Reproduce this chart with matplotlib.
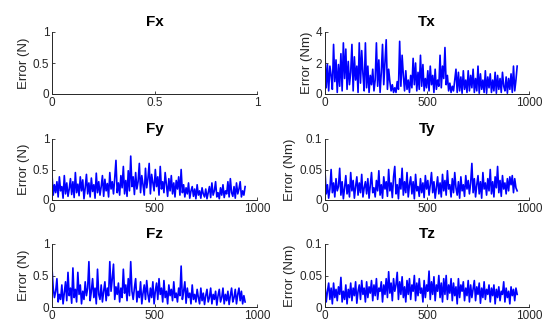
import numpy as np
import matplotlib
matplotlib.use("Agg")
import matplotlib.pyplot as plt
from matplotlib.ticker import FuncFormatter

plt.rcParams['font.family'] = ['Liberation Sans', 'DejaVu Sans']

step = 6  # sample spacing of the values below

tx = [2.5,0.4,1.9,0.2,1.8,1.2,0.3,3.2,0.8,2.2,0.1,1.9,0.5,2.6,0.2,3.3,1.0,
      2.9,0.3,2.1,0.6,1.4,3.2,0.2,2.4,0.9,1.8,0.1,3.3,0.7,2.8,1.3,0.2,3.3,
      0.4,1.8,0.1,1.2,0.6,1.6,0.2,0.9,
      3.3,0.5,2.2,0.1,1.4,3.2,0.6,2.0,3.5,0.3,1.6,0.8,
      0.2,0.6,0.1,0.4,0.1,0.8,0.3,
      3.4,0.5,2.5,1.2,0.2,
      1.5,0.3,0.9,0.1,1.2,0.4,2.3,
      0.6,2.0,0.2,1.4,0.3,
      2.5,0.5,1.9,0.2,1.0,0.4,
      1.5,0.2,1.8,0.6,1.2,0.1,1.6,0.3,0.9,0.5,
      2.5,0.4,1.8,1.0,3.0,0.6,
      1.2,0.2,0.7,0.1,0.5,0.2,0.9,
      1.6,0.1,1.4,0.2,1.1,0.05,1.5,0.3,0.9,0.1,
      1.5,0.2,1.2,0.4,1.6,0.1,1.0,0.2,1.8,0.05,
      1.3,0.3,0.9,0.1,1.5,0.05,1.1,0.4,1.3,0.1,
      0.9,0.2,1.4,0.05,1.2,0.3,1.0,0.1,1.4,0.5,
      0.2,1.1,0.05,1.0,0.3,1.3,0.1,1.8,0.2,0.9,1.8]

fy = [0.42,0.08,0.25,0.12,0.30,0.05,0.38,0.15,0.22,0.03,0.40,0.10,0.28,0.06,0.18,0.35,0.09,
      0.30,0.04,0.45,0.12,0.26,0.07,0.38,0.15,0.33,0.02,0.20,0.42,0.10,0.28,0.05,0.36,0.14,
      0.25,0.03,0.44,0.12,0.30,0.08,0.22,0.40,0.06,0.34,0.15,0.27,0.05,0.45,0.18,0.30,0.10,
      0.36,0.65,0.12,0.28,0.08,0.40,0.20,0.55,0.10,0.32,0.06,0.48,0.15,0.72,0.22,0.38,0.09,
      0.45,0.18,0.30,0.60,0.12,0.40,0.25,0.08,0.52,0.20,0.35,0.60,0.10,0.42,0.28,0.15,0.50,
      0.22,0.38,0.08,0.55,0.18,0.30,0.12,0.45,0.25,0.06,0.35,0.15,0.40,0.10,0.28,0.05,0.32,
      0.18,0.38,0.08,0.50,0.12,0.25,0.05,0.20,0.10,0.28,0.03,0.15,0.22,0.06,0.18,0.02,0.25,
      0.08,0.15,0.03,0.20,0.10,0.05,0.18,0.02,0.12,0.22,0.04,0.28,0.08,0.15,0.30,0.05,0.12,
      0.02,0.20,0.08,0.25,0.04,0.15,0.10,0.30,0.05,0.35,0.12,0.06,0.22,0.03,0.28,0.10,0.18,0.30,0.05,0.15,0.08,0.22]

fz = [0.62,0.30,0.15,0.25,0.45,0.08,0.20,0.12,0.35,0.05,0.22,0.40,0.10,0.55,0.18,0.30,0.06,
      0.62,0.15,0.28,0.08,0.55,0.20,0.35,0.05,0.25,0.12,0.40,0.18,0.30,0.72,0.10,0.25,0.45,
      0.15,0.30,0.05,0.60,0.20,0.12,0.35,0.08,0.25,0.40,0.10,0.30,0.18,0.72,0.25,0.45,0.68,
      0.12,0.32,0.20,0.38,0.08,0.30,0.15,0.60,0.22,0.35,0.10,0.45,0.18,0.72,0.25,0.12,0.30,
      0.45,0.08,0.25,0.15,0.40,0.05,0.22,0.35,0.12,0.42,0.20,0.08,0.30,0.15,0.40,0.05,0.25,
      0.38,0.12,0.45,0.20,0.30,0.08,0.42,0.15,0.25,0.05,0.35,0.18,0.28,0.10,0.40,0.15,0.22,
      0.08,0.30,0.18,0.65,0.12,0.25,0.40,0.06,0.30,0.15,0.22,0.05,0.35,0.12,0.20,0.08,0.28,
      0.15,0.05,0.30,0.10,0.22,0.04,0.18,0.28,0.08,0.15,0.30,0.05,0.20,0.12,0.25,0.03,0.18,
      0.28,0.08,0.15,0.30,0.05,0.20,0.10,0.25,0.04,0.18,0.30,0.08,0.15,0.28,0.05,0.20,0.30,0.10,0.25,0.05,0.18,0.08]

ty = [0.048,0.010,0.025,0.003,0.018,0.050,0.012,0.028,0.005,0.035,0.015,0.022,0.052,0.008,0.030,0.002,0.020,
      0.040,0.010,0.025,0.005,0.045,0.015,0.032,0.003,0.022,0.038,0.008,0.028,0.012,0.042,0.005,0.020,0.030,
      0.010,0.035,0.003,0.025,0.045,0.012,0.020,0.005,0.032,0.015,0.048,0.008,0.025,0.003,0.038,0.018,0.030,
      0.006,0.050,0.015,0.028,0.004,0.038,0.055,0.010,0.025,0.002,0.035,0.018,0.052,0.008,0.030,0.012,0.045,
      0.005,0.025,0.038,0.010,0.030,0.002,0.042,0.015,0.022,0.006,0.035,0.012,0.028,0.004,0.040,0.018,0.032,
      0.008,0.025,0.045,0.012,0.030,0.003,0.020,0.038,0.010,0.028,0.005,0.042,0.015,0.032,0.008,0.048,0.018,
      0.025,0.005,0.035,0.012,0.045,0.020,0.008,0.030,0.003,0.038,0.015,0.025,0.006,0.040,0.018,0.032,0.010,
      0.028,0.060,0.012,0.035,0.005,0.025,0.040,0.010,0.030,0.003,0.045,0.018,0.028,0.008,0.035,0.015,0.050,
      0.010,0.030,0.005,0.038,0.020,0.055,0.012,0.032,0.006,0.040,0.018,0.028,0.010,0.035,0.015,0.038,0.025,0.040,0.012,0.035,0.020,0.015]

tz = [0.035,0.008,0.025,0.038,0.012,0.030,0.005,0.038,0.015,0.028,0.010,0.032,0.020,0.047,0.008,0.025,0.012,
      0.035,0.005,0.028,0.015,0.038,0.010,0.030,0.018,0.040,0.006,0.025,0.035,0.012,0.042,0.020,0.030,0.008,
      0.040,0.015,0.032,0.022,0.042,0.010,0.035,0.018,0.045,0.012,0.030,0.025,0.040,0.008,0.035,0.020,0.045,
      0.015,0.056,0.022,0.038,0.010,0.045,0.025,0.035,0.055,0.012,0.040,0.020,0.048,0.015,0.032,0.008,0.042,
      0.020,0.045,0.012,0.035,0.025,0.050,0.010,0.038,0.018,0.045,0.022,0.030,0.008,0.042,0.015,0.035,0.025,
      0.057,0.012,0.040,0.020,0.048,0.010,0.035,0.025,0.050,0.015,0.038,0.008,0.045,0.020,0.050,0.012,0.035,
      0.022,0.045,0.010,0.038,0.018,0.032,0.005,0.045,0.015,0.035,0.025,0.040,0.010,0.030,0.018,0.042,0.008,
      0.035,0.015,0.028,0.042,0.010,0.032,0.020,0.038,0.006,0.030,0.015,0.040,0.012,0.028,0.020,0.035,0.008,
      0.030,0.018,0.035,0.005,0.028,0.015,0.032,0.010,0.025,0.020,0.040,0.008,0.030,0.015,0.025,0.005,0.032,0.018,0.028,0.010,0.030,0.020]

titles = ["Fx", "Tx", "Fy", "Ty", "Fz", "Tz"]
ylabels = ["Error (N)", "Error (Nm)", "Error (N)", "Error (Nm)", "Error (N)", "Error (Nm)"]
series = [None, tx, fy, ty, fz, tz]
ylims = [1, 4, 1, 0.1, 1, 0.1]
yticks = [[0, 0.5, 1], [0, 2, 4], [0, 0.5, 1], [0, 0.05, 0.1], [0, 0.5, 1], [0, 0.05, 0.1]]

W, H = 549, 327
fig = plt.figure(figsize=(W/100, H/100), dpi=100)
cols = [(52, 257), (325, 529)]
rows = [(32, 94), (139, 200), (244, 307)]
axcol = '#262626'

fmt = FuncFormatter(lambda v, p: ('%g' % v))
for k in range(6):
    r, c = divmod(k, 2)
    x0, x1 = cols[c]
    y0, y1 = rows[r]
    ax = fig.add_axes([x0/W, 1 - y1/H, (x1-x0)/W, (y1-y0)/H])
    data = series[k]
    if data is None:
        ax.set_xlim(0, 1)
        ax.set_xticks([0, 0.5, 1])
    else:
        xs = np.arange(len(data)) * step
        ax.plot(xs, data, color=(0, 0, 1), lw=1.2)
        ax.set_xlim(0, 1000)
        ax.set_xticks([0, 500, 1000])
    ax.set_ylim(0, ylims[k])
    ax.set_yticks(yticks[k])
    ax.xaxis.set_major_formatter(fmt)
    ax.yaxis.set_major_formatter(fmt)
    for s in ['top', 'right']:
        ax.spines[s].set_visible(False)
    for s in ['left', 'bottom']:
        ax.spines[s].set_color(axcol)
        ax.spines[s].set_linewidth(0.7)
    ax.tick_params(direction='in', length=2.5, width=0.6, colors=axcol,
                   labelsize=8.5, pad=2)
    ax.set_title(titles[k], fontsize=11, fontweight='bold', pad=4, color='black')
    ax.set_ylabel(ylabels[k], fontsize=9.5, color=axcol, labelpad=2)

fig.savefig("out.png", dpi=100)
